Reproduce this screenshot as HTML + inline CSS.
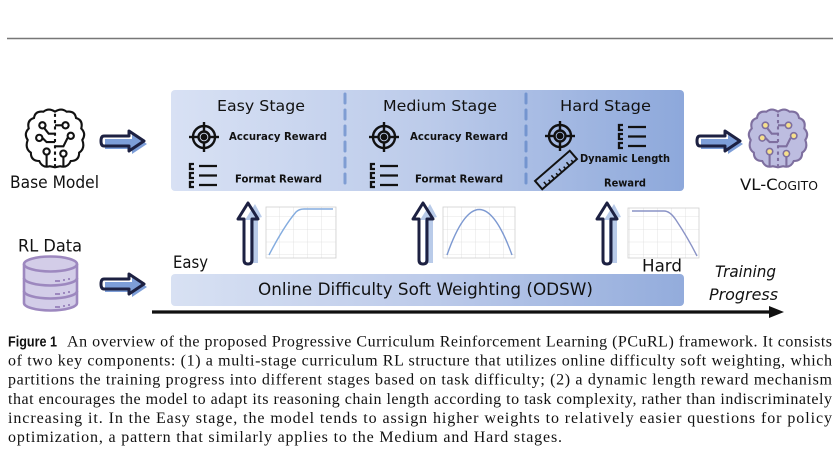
<!DOCTYPE html>
<html><head><meta charset="utf-8"><style>
html,body{margin:0;padding:0;background:#fff;}
svg{display:block;}
.c{font-family:"DejaVu Sans","Liberation Sans",sans-serif;fill:#111;}
.b{font-family:"DejaVu Sans","Liberation Sans",sans-serif;font-weight:bold;fill:#111;}
.cap{font-family:"Liberation Serif",serif;font-size:16px;fill:#111;}
</style></head><body>
<svg width="840" height="473" viewBox="0 0 840 473" xmlns="http://www.w3.org/2000/svg">
<defs>
<linearGradient id="g1" x1="0" x2="1" y1="0" y2="0">
<stop offset="0" stop-color="#d8e1f4"/><stop offset="0.5" stop-color="#bccbea"/><stop offset="1" stop-color="#8da8db"/>
</linearGradient>
<linearGradient id="g2" x1="0" x2="1" y1="0" y2="0">
<stop offset="0" stop-color="#d8e1f3"/><stop offset="0.5" stop-color="#bdcbea"/><stop offset="1" stop-color="#93acdc"/>
</linearGradient>
<g id="tgt" fill="none" stroke="#111" stroke-width="2.4">
<circle r="11"/><circle r="5.5"/><circle r="2.2" fill="#111"/>
<line x1="-15" y1="0" x2="-5.5" y2="0"/><line x1="5.5" y1="0" x2="15" y2="0"/>
<line x1="0" y1="-15" x2="0" y2="-5.5"/><line x1="0" y1="5.5" x2="0" y2="15"/>
</g>
<g id="lst" fill="none" stroke="#111" stroke-width="2.3">
<path d="M5,1 H1 V6 H5"/><path d="M5,10 H1 V15 H5"/><path d="M5,19 H1 V24 H5"/>
<line x1="10" y1="3" x2="28" y2="3"/><line x1="10" y1="12.5" x2="28" y2="12.5"/><line x1="10" y1="22" x2="28" y2="22"/>
</g>
<g id="harr">
<path d="M4,-2 L31,-2 L31,-7 L46,3 L31,13 L31,8 L4,8 Z" fill="#7d9ed8"/>
<path d="M3,-5 L28,-5 L28,-10 L43,0 L28,10 L28,5 L3,5 Q0,5 0,0 Q0,-5 3,-5 Z" fill="none" stroke="#1d2142" stroke-width="3" stroke-linejoin="round"/>
</g>
<g id="varr">
<path d="M2,60 L2,17 L-3,17 L7,1 L14,14 L10,15 L10,60 Z" fill="#b9cbe9"/>
<path d="M-4,57 L-4,16 L-10,16 L0,0 L10,16 L4,16 L4,57 Q4,61 0,61 Q-4,61 -4,57 Z" fill="none" stroke="#1d2142" stroke-width="3" stroke-linejoin="round"/>
</g>
<g id="brainpath">
<path d="M0,-27 Q-6,-31 -11,-27 Q-19,-28 -20,-21 Q-27,-19 -25,-11 Q-30,-6 -26,0 Q-29,8 -23,12 Q-23,20 -15,20 Q-12,27 -5,25 L0,26 L5,25 Q12,27 15,20 Q23,20 23,12 Q29,8 26,0 Q30,-6 25,-11 Q27,-19 20,-21 Q19,-28 11,-27 Q6,-31 0,-27 Z"/>
</g>
<pattern id="grid" width="14" height="12.75" patternUnits="userSpaceOnUse">
<path d="M14,0 V12.75 M0,12.75 H14" fill="none" stroke="#dcdcdc" stroke-width="0.8"/>
</pattern>
</defs>

<line x1="7" y1="38.5" x2="833" y2="38.5" stroke="#777" stroke-width="1.6"/>

<rect x="171" y="90" width="513" height="101" rx="4" fill="url(#g1)"/>
<line x1="345" y1="94" x2="345" y2="190" stroke="#7f9dd3" stroke-width="3" stroke-dasharray="9,7" stroke-linecap="round"/>
<line x1="526" y1="94" x2="526" y2="190" stroke="#7495cf" stroke-width="3" stroke-dasharray="9,7" stroke-linecap="round"/>

<text class="c" x="217" y="111" font-size="15.5" textLength="88" lengthAdjust="spacingAndGlyphs">Easy Stage</text>
<text class="c" x="383" y="111" font-size="15.5" textLength="114" lengthAdjust="spacingAndGlyphs">Medium Stage</text>
<text class="c" x="560" y="111" font-size="15.5" textLength="91" lengthAdjust="spacingAndGlyphs">Hard Stage</text>

<use href="#tgt" x="204" y="137"/>
<use href="#tgt" x="384" y="137"/>
<use href="#tgt" x="560" y="136"/>
<use href="#lst" x="189" y="163"/>
<use href="#lst" x="370" y="163"/>
<use href="#lst" x="618" y="124"/>

<text class="b" x="229" y="140" font-size="10.5" textLength="98" lengthAdjust="spacingAndGlyphs">Accuracy Reward</text>
<text class="b" x="235" y="182.5" font-size="10.5" textLength="87" lengthAdjust="spacingAndGlyphs">Format Reward</text>
<text class="b" x="410" y="140" font-size="10.5" textLength="98" lengthAdjust="spacingAndGlyphs">Accuracy Reward</text>
<text class="b" x="415" y="182.5" font-size="10.5" textLength="88" lengthAdjust="spacingAndGlyphs">Format Reward</text>
<text class="b" x="580" y="162" font-size="10.5" textLength="90" lengthAdjust="spacingAndGlyphs">Dynamic Length</text>
<text class="b" x="604" y="186.5" font-size="10.5" textLength="42" lengthAdjust="spacingAndGlyphs">Reward</text>

<g transform="translate(556,170) rotate(-41)">
<rect x="-23" y="-5.5" width="46" height="11" fill="none" stroke="#111" stroke-width="2"/>
<path d="M-17,5.5 V1 M-12,5.5 V2.5 M-7,5.5 V1 M-2,5.5 V2.5 M3,5.5 V1 M8,5.5 V2.5 M13,5.5 V1 M18,5.5 V2.5" stroke="#111" stroke-width="1.5"/>
</g>

<g transform="translate(55,140) scale(1.05)" fill="none" stroke="#111" stroke-width="2">
<use href="#brainpath"/>
<line x1="0" y1="-25" x2="0" y2="25" stroke-dasharray="3,3"/>
<path d="M0,-14 H7"/><circle cx="10" cy="-14" r="3"/>
<path d="M0,-6 H-6 L-10,-11"/><circle cx="-12" cy="-14" r="3"/>
<path d="M0,2 H-8 L-12,-2"/><circle cx="-15" cy="-2" r="3"/>
<path d="M0,6 H8 L12,-2"/><circle cx="15" cy="-4" r="3"/>
<path d="M-8,25 V14"/><circle cx="-8" cy="11" r="3"/>
<path d="M8,25 V16"/><circle cx="8" cy="13" r="3"/>
</g>
<text class="c" x="10" y="188" font-size="16.5" textLength="89" lengthAdjust="spacingAndGlyphs">Base Model</text>
<use href="#harr" x="101" y="141"/>

<text class="c" x="18" y="251.5" font-size="16.5" textLength="64" lengthAdjust="spacingAndGlyphs">RL Data</text>
<g fill="#d3cde8" stroke="#9d88bf" stroke-width="2.6">
<path d="M24,264 V303 A26.5,7.5 0 0 0 77,303 V264"/>
<ellipse cx="50.5" cy="264" rx="26.5" ry="7.5"/>
<path d="M24,278 A26.5,7.5 0 0 0 77,278" fill="none"/>
<path d="M24,291 A26.5,7.5 0 0 0 77,291" fill="none"/>
<path d="M55,281 H60 M63,280 H65 M68,279 H70 M55,294 H60 M63,293 H65 M68,292 H70 M55,307 H60 M63,306 H65 M68,305 H70" fill="none" stroke-width="2"/>
</g>
<use href="#harr" x="101" y="284"/>

<use href="#harr" x="697" y="141"/>
<g transform="translate(778,140) scale(1.05)" stroke="#7e6f9f" stroke-width="2">
<use href="#brainpath" fill="#bdbde0"/>
<g fill="none">
<line x1="0" y1="-25" x2="0" y2="25" stroke-dasharray="3,3"/>
<path d="M0,-14 H7"/><path d="M0,-6 H-6 L-10,-11"/><path d="M0,2 H-8 L-12,-2"/><path d="M0,6 H8 L12,-2"/>
<path d="M-8,25 V14"/><path d="M8,25 V16"/>
</g>
<g fill="#f6e08c" stroke-width="1.5">
<circle cx="10" cy="-14" r="3"/><circle cx="-12" cy="-14" r="3"/><circle cx="-15" cy="-2" r="3"/><circle cx="15" cy="-4" r="3"/><circle cx="-8" cy="11" r="3"/><circle cx="8" cy="13" r="3"/>
</g>
</g>
<text class="c" x="740" y="190" font-size="16" textLength="78" lengthAdjust="spacingAndGlyphs">VL-C<tspan font-size="12">OGITO</tspan></text>

<use href="#varr" x="248" y="203"/>
<use href="#varr" x="423" y="203"/>
<use href="#varr" x="607" y="203"/>

<rect x="266" y="207" width="70" height="51" fill="url(#grid)" stroke="#cfcfcf" stroke-width="0.8"/>
<path d="M269,255 Q284,226 296,212 Q299,209 304,209 H333" fill="none" stroke="#84acdf" stroke-width="1.4"/>
<rect x="443" y="207" width="72" height="51" fill="url(#grid)" stroke="#cfcfcf" stroke-width="0.8"/>
<path d="M447,255 Q479,164 512,255" fill="none" stroke="#7d99d1" stroke-width="1.4"/>
<rect x="628" y="208" width="71" height="50" fill="url(#grid)" stroke="#cfcfcf" stroke-width="0.8"/>
<path d="M632,211 H664 Q670,211 676,220 Q688,238 697,256" fill="none" stroke="#8a93c6" stroke-width="1.4"/>

<rect x="171" y="274" width="513" height="32" rx="4" fill="url(#g2)"/>
<text class="c" x="258" y="295" font-size="17" textLength="335" lengthAdjust="spacingAndGlyphs">Online Difficulty Soft Weighting (ODSW)</text>
<text class="c" x="173" y="268" font-size="16.5" textLength="35" lengthAdjust="spacingAndGlyphs">Easy</text>
<text class="c" x="642" y="271.5" font-size="16.5" textLength="40" lengthAdjust="spacingAndGlyphs">Hard</text>
<text class="c" x="715" y="277" font-size="16" font-style="italic" textLength="61" lengthAdjust="spacingAndGlyphs">Training</text>
<text class="c" x="709" y="300" font-size="16" font-style="italic" textLength="69" lengthAdjust="spacingAndGlyphs">Progress</text>

<line x1="152" y1="312" x2="772" y2="312" stroke="#111" stroke-width="3.2"/>
<path d="M769,306 L784,312 L769,318 Z" fill="#111"/>

<text x="8" y="346.5" font-family="Liberation Sans, sans-serif" font-weight="bold" font-size="14.5" fill="#111" textLength="49" lengthAdjust="spacingAndGlyphs">Figure 1</text>
<text class="cap" x="67" y="346.5" textLength="765" lengthAdjust="spacing">An overview of the proposed Progressive Curriculum Reinforcement Learning (PCuRL) framework. It consists</text>
<text class="cap" x="8" y="365.6" textLength="824" lengthAdjust="spacing">of two key components: (1) a multi-stage curriculum RL structure that utilizes online difficulty soft weighting, which</text>
<text class="cap" x="8" y="384.7" textLength="824" lengthAdjust="spacing">partitions the training progress into different stages based on task difficulty; (2) a dynamic length reward mechanism</text>
<text class="cap" x="8" y="403.8" textLength="824" lengthAdjust="spacing">that encourages the model to adapt its reasoning chain length according to task complexity, rather than indiscriminately</text>
<text class="cap" x="8" y="422.9" textLength="824" lengthAdjust="spacing">increasing it. In the Easy stage, the model tends to assign higher weights to relatively easier questions for policy</text>
<text class="cap" x="8" y="442" textLength="554" lengthAdjust="spacing">optimization, a pattern that similarly applies to the Medium and Hard stages.</text>
</svg>
</body></html>
